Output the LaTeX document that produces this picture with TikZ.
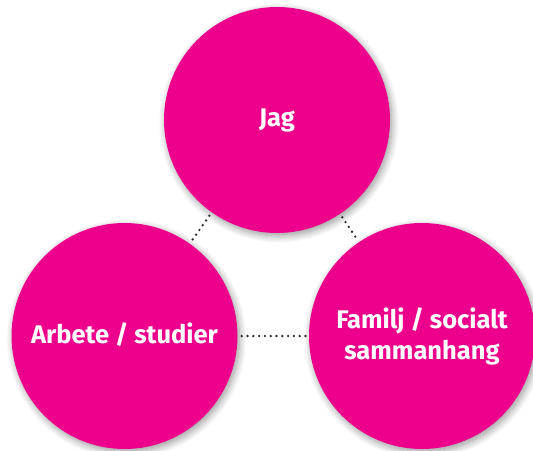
\documentclass[tikz,border=0pt]{standalone}
\usepackage{fontspec}
\setmainfont{Fira Sans}
\usetikzlibrary{shadows.blur}
\definecolor{bubble}{HTML}{EC008C}
\definecolor{dotgray}{HTML}{2A2A2A}
\tikzset{
  bubblenode/.style={circle, fill=bubble, minimum size=226pt, inner sep=0pt,
    text=white, font=\bfseries\fontsize{25.5}{31}\selectfont, align=center,
    blur shadow={shadow xshift=2pt, shadow yshift=-3pt, shadow blur steps=10,
      shadow blur radius=7pt, shadow opacity=40}},
  dotline/.style={dotgray, line width=2.6pt, line cap=round,
    dash pattern=on 0pt off 5.8pt, shorten <=4pt, shorten >=3pt}
}
\begin{document}
\begin{tikzpicture}[x=1pt, y=-1pt]
  \useasboundingbox (0,0) rectangle (533,450);
  \begin{scope}
    \clip (0,0) rectangle (533,450);
    \node[bubblenode] (jag) at (277,120) {\raisebox{5pt}{Jag}};
    \node[bubblenode] (arbete) at (124.5,336) {\raisebox{5pt}{Arbete / studier}};
    \node[bubblenode] (familj) at (422,336) {Familj / socialt\\sammanhang};
  \end{scope}
  \draw[dotline] (jag) -- (arbete);
  \draw[dotline] (jag) -- (familj);
  \draw[dotline] (arbete) -- (familj);
\end{tikzpicture}
\end{document}
